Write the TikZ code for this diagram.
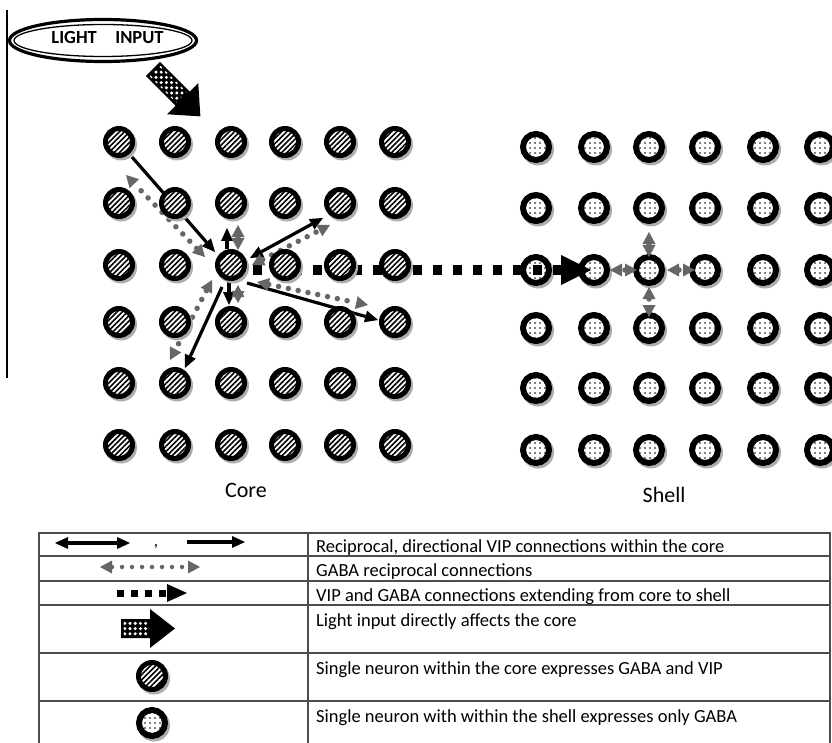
\documentclass[tikz,border=0pt]{standalone}
\usepackage{fontspec}
\setmainfont{Carlito}
\usetikzlibrary{arrows.meta,patterns.meta,shapes.geometric,calc}

\definecolor{gabagray}{gray}{0.40}
\definecolor{shadowgray}{gray}{0.68}
\definecolor{rulegray}{gray}{0.30}

\pgfdeclarelayer{back}
\pgfsetlayers{back,main}

% white dots on black for the light-input arrows
\tikzdeclarepattern{
  name=lightmesh,
  type=uncolored,
  bounding box={(-2.6pt,-2.6pt) and (2.6pt,2.6pt)},
  tile size={(5.2pt,5.2pt)},
  code={\fill (0pt,0pt) circle (1.7pt);}
}

\tikzset{
  corecell/.style={circle, inner sep=0pt, minimum size=27pt, line width=5pt,
    draw=black, fill=white,
    postaction={pattern={Lines[angle=45,distance=3.7pt,line width=1.6pt]}}},
  shellcell/.style={circle, inner sep=0pt, minimum size=26pt, line width=6pt,
    draw=black, fill=white,
    postaction={pattern={Dots[distance=5pt,radius=0.8pt]}}},
  vipline/.style={black, line width=3.2pt,
    -{Triangle[length=13pt,width=12pt,line width=0pt]}},
  vipboth/.style={black, line width=3.2pt,
    {Triangle[length=13pt,width=12pt,line width=0pt]}-{Triangle[length=13pt,width=12pt,line width=0pt]}},
  gabaline/.style={gabagray, line width=5.5pt, line cap=round,
    dash pattern=on 0pt off 10pt,
    {Triangle[length=12pt,width=13pt,line width=0pt]}-{Triangle[length=12pt,width=13pt,line width=0pt]}},
  corebus/.style={black, line width=9pt, dash pattern=on 9pt off 11pt,
    -{Triangle[length=30pt,width=30pt,line width=0pt]}},
  legtext/.style={anchor=base west, inner sep=0pt, font=\fontsize{18.5}{22}\selectfont},
  tableline/.style={rulegray, line width=1.2pt},
  bigtext/.style={anchor=base, inner sep=0pt, font=\fontsize{22}{24}\selectfont}
}

% a neuron with its drop shadow: name, x, y
\newcommand\corecellat[3]{%
  \fill[shadowgray] (#2+2,#3+2.5) circle (16pt);
  \node[corecell] (#1) at (#2,#3) {};}
\newcommand\shellcellat[3]{%
  \fill[shadowgray] (#2+2,#3+2.5) circle (16pt);
  \node[shellcell] (#1) at (#2,#3) {};}

\begin{document}
\begin{tikzpicture}[x=1pt,y=-1pt]
\useasboundingbox (0,0) rectangle (832,743);

% ---------- core neurons ----------
\foreach \yy [count=\rr] in {142,203,265,322,383,445}{
  \foreach \xx [count=\cc] in {119,175,231,285,340,395}{
    \corecellat{c\rr\cc}{\xx}{\yy}
  }
}

\begin{pgfonlayer}{back}
  \fill[white] (0,0) rectangle (832,743);

  % ---------- shell neurons ----------
  \foreach \yy [count=\rr] in {147,208,270,328,388,450}{
    \foreach \xx [count=\cc] in {536,594,649,705,763,820}{
      \shellcellat{s\rr\cc}{\xx}{\yy}
    }
  }

  % core -> shell projection
  \draw[corebus] ([shift={(22,5)}]c33.center) -- ([shift={(-3,0)}]s32.center);

  % VIP connections within the core
  \draw[vipline] ([shift={(13,15)}]c11.center) -- ([shift={(-16,-13)}]c33.center);
  \draw[vipboth] ([shift={(19,-7)}]c33.center) -- ([shift={(-17,15)}]c25.center);
  \draw[vipline] ([shift={(16,18)}]c33.center) -- ([shift={(-17,-2)}]c46.center);
  \draw[vipline] ([shift={(-9,22)}]c33.center) -- ([shift={(10,-15)}]c52.center);
  \draw[vipline] ([shift={(-4,-16)}]c33.center) -- ([shift={(-4,25)}]c23.center);
  \draw[vipline] ([shift={(-2,17)}]c33.center) -- ([shift={(-2,-17)}]c43.center);

  % GABA connections within the core
  \draw[gabaline] ([shift={(-26,-8)}]c33.center) -- ([shift={(7,33)}]c11.center);
  \draw[gabaline] ([shift={(21,0)}]c33.center) -- ([shift={(-10,22)}]c25.center);
  \draw[gabaline] ([shift={(26,17)}]c33.center) -- ([shift={(-27,-17)}]c46.center);
  \draw[gabaline] ([shift={(-19,15)}]c33.center) -- ([shift={(-5,-23)}]c52.center);
  \draw[gabaline] ([shift={(7,-15)}]c33.center) -- ([shift={(7,22)}]c23.center);
  \draw[gabaline] ([shift={(7,20)}]c33.center) -- ([shift={(7,-19)}]c43.center);

  % GABA connections within the shell
  \draw[gabaline] ([shift={(-12,0)}]s33.center) -- ([shift={(16,0)}]s32.center);
  \draw[gabaline] ([shift={(18,0)}]s33.center) -- ([shift={(-10,0)}]s34.center);
  \draw[gabaline] ([shift={(0,-13)}]s33.center) -- ([shift={(0,24)}]s23.center);
  \draw[gabaline] ([shift={(0,17)}]s33.center) -- ([shift={(0,-11)}]s43.center);
\end{pgfonlayer}

% ---------- light input ----------
\draw[line width=1.5pt] (7,10) -- (7,378);
\node[ellipse, draw, line width=1.3pt, minimum width=178pt, minimum height=32pt,
      inner sep=0pt, text height=12pt, text depth=6pt,
      font=\bfseries\fontsize{18.5}{20}\selectfont] (light) at (103,40.5)
      {\hspace*{9pt}LIGHT\quad INPUT};
\draw[line width=3.2pt] (light.center) ellipse [x radius=93.5pt, y radius=21pt];

\begin{scope}[shift={(153,69)}, rotate=-45]
  \fill (0,-10) -- (42,-10) -- (42,-22) -- (67,0) -- (42,22) -- (42,10) -- (0,10) -- cycle;
  \fill[pattern=lightmesh, pattern color=white] (2.5,-7.5) rectangle (40,7.5);
\end{scope}

% ---------- labels ----------
\node[bigtext] (corelabel) at (246,497) {Core};
\node[bigtext] (shelllabel) at (664,502) {Shell};

% ---------- legend table ----------
\draw[tableline] (39,743) -- (39,533) -- (830,533) -- (830,743);
\foreach \yy in {556,581,605,653,701} \draw[tableline] (39,\yy) -- (830,\yy);
\draw[tableline] (308,533) -- (308,743);

\coordinate (l1a) at (55,543);
\coordinate (l1b) at (130,543);
\coordinate (l1c) at (187,542);
\coordinate (l1d) at (245,542);
\draw[vipboth] (l1a) -- (l1b);
\draw[vipline] (l1c) -- (l1d);
\node[inner sep=0pt, font=\fontsize{17}{17}\selectfont] (comma) at (156,547) {,};

\coordinate (l2a) at (100,567);
\coordinate (l2b) at (200,567);
\draw[gabaline, line width=4.5pt, dash pattern=on 0pt off 10pt] (l2a) -- (l2b);

\coordinate (l3a) at (117,593);
\coordinate (l3b) at (187,593);
\draw[black, line width=7pt, dash pattern=on 6.5pt off 7.5pt,
      -{Triangle[length=20pt,width=18pt,line width=0pt]}] (l3a) -- (l3b);

\fill (121,619) -- (150,619) -- (150,609) -- (175,628.5) -- (150,648) -- (150,638) -- (121,638) -- cycle;
\fill[pattern=lightmesh, pattern color=white] (123.5,621.5) rectangle (148.5,635.5);

\corecellat{legcore}{152}{676}
\shellcellat{legshell}{152}{723}

\node[legtext] (t1) at (316,552) {Reciprocal, directional VIP connections within the core};
\node[legtext] (t2) at (316,576) {GABA reciprocal connections};
\node[legtext] (t3) at (316,601) {VIP and GABA connections extending from core to shell};
\node[legtext] (t4) at (316,626) {Light input directly affects the core};
\node[legtext] (t5) at (316,674) {Single neuron within the core expresses GABA and VIP};
\node[legtext] (t6) at (316,722) {Single neuron with within the shell expresses only GABA};

\end{tikzpicture}
\end{document}
